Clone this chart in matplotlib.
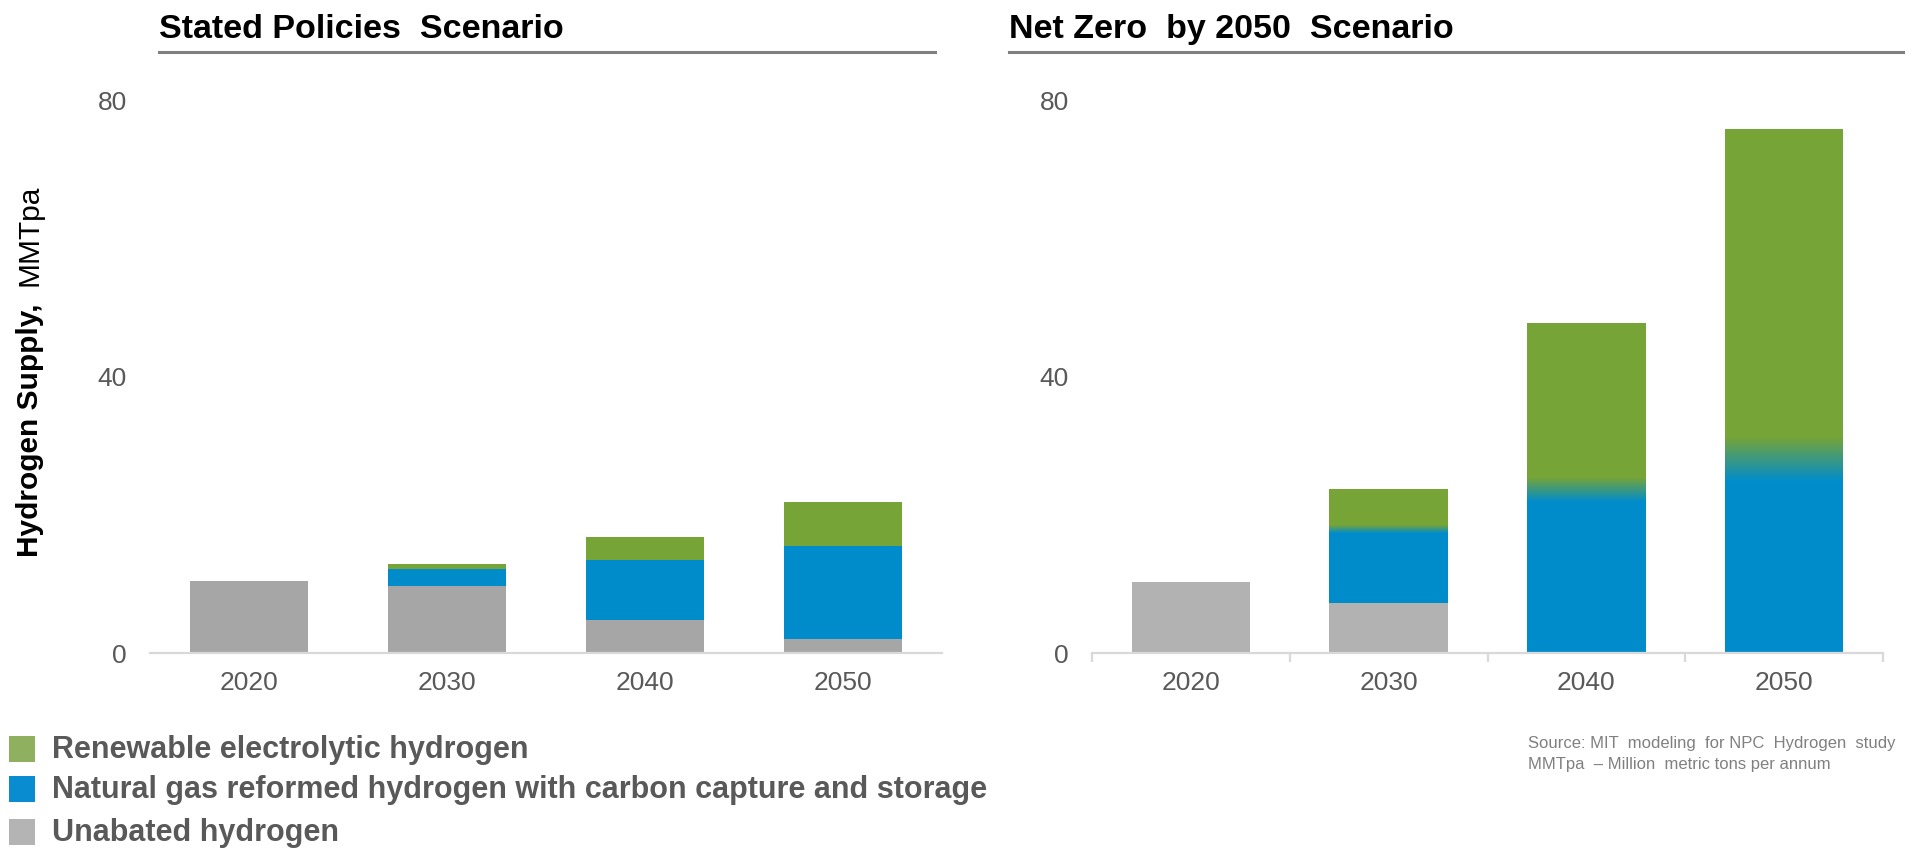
import matplotlib.pyplot as plt
import numpy as np
from matplotlib.colors import LinearSegmentedColormap
from matplotlib.lines import Line2D
from matplotlib.patches import Rectangle

plt.rcParams['font.family'] = ['Liberation Sans', 'DejaVu Sans']

years = ['2020', '2030', '2040', '2050']

# hydrogen supply in MMTpa, stacked bottom to top
stated_unabated = [10.4, 9.7, 4.8, 2.0]
stated_ccs = [0.0, 2.4, 8.6, 13.5]
stated_renewable = [0.0, 0.7, 3.3, 6.3]

netzero_unabated = [10.2, 7.2, 0.0, 0.0]
netzero_ccs = [0.0, 10.7, 23.6, 28.0]
netzero_renewable = [0.0, 5.8, 24.1, 47.6]
# height of the blue -> green fade around the ccs/renewable boundary
netzero_fade = [0.0, 1.2, 3.6, 6.6]

legend_labels = ['Renewable electrolytic hydrogen',
                 'Natural gas reformed hydrogen with carbon capture and storage',
                 'Unabated hydrogen']

GREEN = '#76A436'
BLUE = '#008CCB'
GRAY_L = '#A6A6A6'
GRAY_R = '#B2B2B2'
AXIS = '#D9D9D9'
TXT = '#595959'

W, H = 1917, 853
fig = plt.figure(figsize=(W / 100, H / 100), dpi=100)


def fx(px):
    return px / W


def fy(px):
    return 1 - px / H


def setup(ax):
    ax.set_xlim(-0.5, 3.5)
    ax.set_ylim(0, 80)
    ax.set_yticks([0, 40, 80])
    ax.set_xticks(range(len(years)), years)
    for s in ['top', 'right', 'left']:
        ax.spines[s].set_visible(False)
    ax.spines['bottom'].set_color(AXIS)
    ax.spines['bottom'].set_linewidth(1.6)
    ax.tick_params(axis='y', length=0, pad=16.5, labelsize=19, labelcolor=TXT)
    ax.tick_params(axis='x', length=0, pad=12, labelsize=19, labelcolor=TXT)


def stack(ax, unabated, ccs, renew, gray):
    x = np.arange(len(years))
    ccs_bottom = np.array(unabated)
    ren_bottom = ccs_bottom + np.array(ccs)
    ax.bar(x, unabated, 0.6, color=gray, zorder=2)
    ax.bar(x, ccs, 0.6, bottom=ccs_bottom, color=BLUE, zorder=2)
    ax.bar(x, renew, 0.6, bottom=ren_bottom, color=GREEN, zorder=2)
    return x, ren_bottom


ax1 = fig.add_axes([fx(150), fy(654), fx(792), fy(100) - fy(654)])
setup(ax1)
stack(ax1, stated_unabated, stated_ccs, stated_renewable, GRAY_L)

ax2 = fig.add_axes([fx(1092), fy(654), fx(791), fy(100) - fy(654)])
setup(ax2)
x2, joins = stack(ax2, netzero_unabated, netzero_ccs, netzero_renewable, GRAY_R)
ax2.set_xticks(np.arange(-0.5, 4.0, 1.0), minor=True)
ax2.tick_params(axis='x', which='minor', length=6.5, width=1.6, color=AXIS, direction='out')

# soft blend between the blue and green segments, drawn as thin bar slices
fade_cmap = LinearSegmentedColormap.from_list('fade', [BLUE, GREEN])
n_slices = 48
for xi, b, h in zip(x2, joins, netzero_fade):
    if h <= 0:
        continue
    edges = np.linspace(b - h / 2, b + h / 2, n_slices + 1)
    cols = fade_cmap(np.linspace(0, 1, n_slices))
    ax2.bar([xi] * n_slices, np.diff(edges) * 1.05, 0.6, bottom=edges[:-1],
            color=cols, linewidth=0, zorder=3)

# panel titles with rules underneath
for x0, x1, title in [(159, 935, 'Stated Policies  Scenario'),
                      (1009, 1903, 'Net Zero  by 2050  Scenario')]:
    fig.text(fx(x0), fy(38), title, fontsize=24.5, fontweight='bold',
             color='black', va='baseline', ha='left')
    fig.add_artist(Line2D([fx(x0), fx(x1)], [fy(52.5), fy(52.5)],
                          color='#808080', lw=2.2))

# y axis label: bold quantity, regular unit
fig.text(fx(38), fy(557), 'Hydrogen Supply,', rotation=90, rotation_mode='anchor',
         ha='left', va='baseline', fontsize=21.5, fontweight='bold', color='black')
fig.text(fx(38), fy(185), 'MMTpa', rotation=90, rotation_mode='anchor',
         ha='right', va='baseline', fontsize=21.5, color='black')

# legend
legend_colors = ['#8FB05F', '#0A8DD0', '#B4B4B4']
for yc, lab, col in zip([750, 790, 833], legend_labels, legend_colors):
    fig.add_artist(Rectangle((fx(9), fy(yc + 13)), fx(26), fy(yc - 13) - fy(yc + 13),
                             facecolor=col, edgecolor='none', transform=fig.transFigure))
    fig.text(fx(52), fy(yc), lab, fontsize=22, fontweight='bold', color=TXT,
             va='center', ha='left')

fig.text(fx(1528), fy(744), 'Source: MIT  modeling  for NPC  Hydrogen  study',
         fontsize=12, color='#808080', va='center', ha='left')
fig.text(fx(1528), fy(765), 'MMTpa  \u2013 Million  metric tons per annum',
         fontsize=12, color='#808080', va='center', ha='left')

fig.savefig('out.png', dpi=100)
